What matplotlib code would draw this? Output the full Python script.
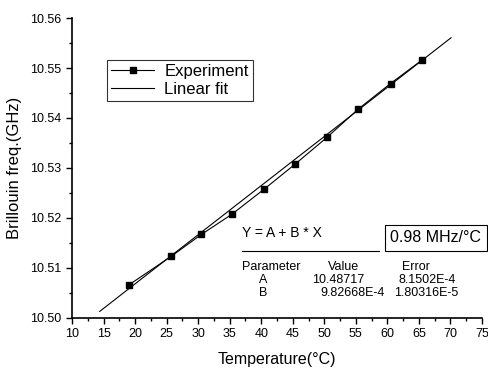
import numpy as np
import matplotlib.pyplot as plt
from matplotlib.ticker import MultipleLocator, FormatStrFormatter

plt.rcParams["font.family"] = ["Liberation Sans", "DejaVu Sans"]

# measured Brillouin frequency shift vs temperature
temperature = [19.0, 25.7, 30.5, 35.3, 40.4, 45.4, 50.4, 55.4, 60.5, 65.5]
brillouin = [10.5066, 10.5123, 10.5167, 10.5207, 10.5257,
             10.5308, 10.5361, 10.5418, 10.5469, 10.5516]

# linear fit parameters Y = A + B * X
fit_A = 10.48717
fit_B = 9.82668e-4
fit_range = [14.4, 70.1]

fig = plt.figure(figsize=(4.89, 3.72), dpi=100)
ax = fig.add_axes([0.1472, 0.1452, 0.8385, 0.8064])

ax.plot(temperature, brillouin, color="black", lw=0.8, marker="s",
        ms=5, mec="black", mfc="black", label="Experiment", zorder=3)
xf = np.array(fit_range)
ax.plot(xf, fit_A + fit_B * xf, color="black", lw=0.8, label="Linear fit",
        zorder=2)

ax.set_xlim(10, 75)
ax.set_ylim(10.50, 10.56)
ax.xaxis.set_major_locator(MultipleLocator(5))
ax.xaxis.set_minor_locator(MultipleLocator(2.5))
ax.yaxis.set_major_locator(MultipleLocator(0.01))
ax.yaxis.set_minor_locator(MultipleLocator(0.005))
ax.yaxis.set_major_formatter(FormatStrFormatter("%.2f"))
ax.tick_params(which="both", direction="out", labelsize=9, width=1)
ax.tick_params(which="major", length=4)
ax.tick_params(which="minor", length=2)
for side in ("top", "right"):
    ax.spines[side].set_visible(False)
for side in ("left", "bottom"):
    ax.spines[side].set_linewidth(1.2)

ax.set_xlabel("Temperature(°C)", fontsize=11.5, labelpad=8)
ax.set_ylabel("Brillouin freq.(GHz)", fontsize=12, labelpad=6)

leg = ax.legend(loc="upper left", bbox_to_anchor=(0.085, 0.86),
                fontsize=12, frameon=True, fancybox=False,
                edgecolor="black", handlelength=2.6, borderpad=0.25,
                labelspacing=0.15, handletextpad=0.6, borderaxespad=0)
leg.get_frame().set_linewidth(0.8)

# fit summary block
ax.text(37.0, 10.5170, "Y = A + B * X", fontsize=10, va="center", ha="left")
ax.plot([37.0, 58.6], [10.5134, 10.5134], color="black", lw=0.8)
ax.text(67.7, 10.5160, "0.98 MHz/°C", fontsize=11.5, va="center",
        ha="center", clip_on=False,
        bbox=dict(boxstyle="square,pad=0.35", fc="white", ec="black", lw=0.8))

table_rows = [10.5102, 10.5076, 10.5050]
ax.text(36.9, table_rows[0], "Parameter", fontsize=9, va="center")
ax.text(50.5, table_rows[0], "Value", fontsize=9, va="center")
ax.text(62.3, table_rows[0], "Error", fontsize=9, va="center")
ax.text(40.3, table_rows[1], "A", fontsize=9, va="center", ha="center")
ax.text(48.1, table_rows[1], "10.48717", fontsize=9, va="center")
ax.text(61.7, table_rows[1], "8.1502E-4", fontsize=9, va="center")
ax.text(40.3, table_rows[2], "B", fontsize=9, va="center", ha="center")
ax.text(49.4, table_rows[2], "9.82668E-4", fontsize=9, va="center")
ax.text(61.0, table_rows[2], "1.80316E-5", fontsize=9, va="center")

fig.savefig("out.png", dpi=100)
